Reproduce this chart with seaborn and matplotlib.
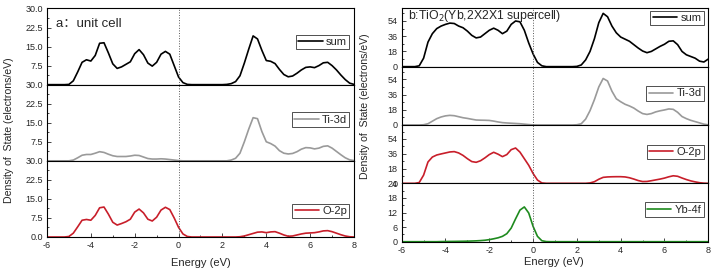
import numpy as np
import matplotlib
matplotlib.use("Agg")
import matplotlib.pyplot as plt
from matplotlib.ticker import MultipleLocator, FuncFormatter
import seaborn as sns

# energy grid (eV), 0.2 eV step
energy = np.linspace(-6, 8, 71)

# (a) unit cell
a_sum = [0, 0, 0, 0, 0, 0.1, 1.5, 5.0, 8.8, 9.8,
         9.3, 11.5, 16.3, 16.5, 12.5, 8.2, 6.4, 7.0, 8.0, 9.0,
         12.2, 13.8, 11.8, 8.5, 7.3, 8.8, 12.0, 13.1, 12.0, 7.5,
         3.0, 0.8, 0.1, 0, 0, 0, 0, 0, 0, 0,
         0, 0.1, 0.4, 1.2, 3.5, 8.5, 14.0, 19.2, 18.0, 13.5,
         9.5, 9.2, 8.3, 6.0, 4.0, 3.1, 3.4, 4.5, 5.8, 6.8,
         7.0, 6.7, 7.5, 8.6, 8.8, 7.5, 5.8, 3.8, 2.0, 0.6,
         0.1]
a_ti = [0, 0, 0, 0, 0, 0, 0.3, 1.2, 2.2, 2.5,
        2.5, 3.0, 3.6, 3.3, 2.6, 2.0, 1.7, 1.7, 1.7, 1.9,
        2.2, 2.1, 1.5, 0.9, 0.7, 0.7, 0.8, 0.7, 0.5, 0.3,
        0.1, 0, 0, 0, 0, 0, 0, 0, 0, 0,
        0, 0, 0.3, 1.0, 3.0, 7.5, 12.5, 17.0, 16.6, 11.5,
        7.5, 6.8, 5.8, 4.0, 3.0, 2.7, 2.9, 3.6, 4.6, 5.2,
        5.1, 4.7, 5.0, 5.7, 5.9, 5.0, 3.7, 2.4, 1.2, 0.4,
        0.1]
a_o = [0, 0, 0, 0, 0, 0.2, 1.5, 4.0, 6.6, 6.9,
       6.6, 8.5, 11.5, 11.8, 9.0, 5.8, 4.7, 5.3, 6.0, 7.0,
       9.8, 11.0, 9.5, 7.0, 6.3, 7.8, 10.6, 11.7, 10.8, 7.5,
       3.8, 1.2, 0.2, 0, 0, 0, 0, 0, 0, 0,
       0, 0, 0, 0, 0.1, 0.4, 0.9, 1.4, 1.9, 2.0,
       1.7, 2.0, 2.1, 1.5, 0.8, 0.3, 0.4, 0.8, 1.2, 1.5,
       1.6, 1.7, 2.0, 2.4, 2.5, 2.1, 1.5, 0.9, 0.4, 0.1,
       0]

# (b) Yb-doped 2x2x1 supercell
b_sum = [0, 0, 0, 0, 1, 10, 29, 39, 45, 48,
         50, 51.5, 51, 48, 46, 42, 37, 34, 35, 39,
         43, 45.5, 43, 39, 42, 50, 54, 53, 43, 28,
         15, 5, 1, 0, 0, 0, 0, 0, 0, 0,
         0.3, 2, 8, 18, 33, 52, 63, 59, 48, 40,
         35, 32.5, 30, 26, 22, 18.5, 16.5, 18, 21, 24,
         26.5, 30, 30.5, 26, 18, 14, 12, 10, 6.5, 5.5,
         9]
b_ti = [0, 0, 0, 0, 0, 0.3, 1.5, 4.5, 7.5, 9.5,
        10.8, 11.4, 11.0, 9.8, 8.6, 7.8, 6.8, 5.9, 5.7, 5.6,
        5.4, 4.6, 3.6, 2.8, 2.4, 2.1, 1.8, 1.5, 1.0, 0.5,
        0.1, 0, 0, 0, 0, 0, 0, 0, 0, 0,
        0.3, 1.5, 7, 17, 30, 45, 55, 52, 40, 31,
        27.5, 24.5, 22.5, 20, 16.5, 13.5, 12.5, 13.5, 15.5, 16.8,
        17.8, 19, 18.5, 15, 10, 7.5, 5.5, 4, 2.5, 1,
        0.2]
b_o = [0, 0, 0, 0, 1, 10, 26, 32, 34.5, 35.8,
       37, 38.2, 38.6, 37, 34, 30, 26.5, 25.6, 27.5, 31,
       35, 37.8, 35.5, 32.5, 35, 41, 43, 38, 30, 22,
       12, 4, 0.5, 0, 0, 0, 0, 0, 0, 0,
       0, 0, 0, 0.5, 2, 5, 7.3, 7.8, 8, 8.1,
       8.1, 7.8, 6.8, 5.2, 3.4, 2.2, 2.3, 3.2, 4.2, 5.2,
       6.4, 8, 9.2, 8.6, 6.5, 4.6, 3, 1.8, 0.8, 0.2,
       0]
b_yb = [0, 0, 0, 0, 0, 0, 0, 0, 0, 0.05,
        0.08, 0.1, 0.12, 0.15, 0.18, 0.22, 0.28, 0.35, 0.45, 0.6,
        0.85, 1.2, 1.6, 2.2, 3.3, 5.6, 9.4, 13.0, 14.3, 11.8,
        6.3, 2.2, 0.4, 0.05, 0, 0, 0, 0, 0, 0,
        0, 0, 0, 0, 0, 0, 0, 0, 0, 0,
        0, 0, 0, 0, 0, 0, 0, 0, 0, 0,
        0, 0, 0, 0, 0, 0, 0, 0, 0, 0,
        0]

sns.set_style("ticks")
plt.rcParams['font.family'] = ['Liberation Sans', 'Noto Sans CJK SC', 'DejaVu Sans']

C_SUM, C_TI, C_O, C_YB = "black", "#9a9a9a", "#c81e2a", "#1e8a1e"

fig = plt.figure(figsize=(7.14, 2.72), dpi=100)
gs_a = fig.add_gridspec(3, 1, left=0.0658, right=0.4958, bottom=0.1287, top=0.9688, hspace=0)
gs_b = fig.add_gridspec(4, 1, left=0.5626, right=0.9920, bottom=0.1114, top=0.9695, hspace=0)


def panel(ax, y, color, label, ylim, step, fmt, bottom, hide_zero, leg_y):
    sns.lineplot(x=energy, y=y, ax=ax, color=color, lw=1.2, label=label)
    ax.lines[-1].set_solid_joinstyle("round")
    ax.set_xlim(-6, 8)
    ax.set_ylim(*ylim)
    ax.axvline(0, color="0.35", ls=":", lw=0.7)
    ax.xaxis.set_major_locator(MultipleLocator(2))
    ax.xaxis.set_minor_locator(MultipleLocator(1))
    ax.yaxis.set_major_locator(MultipleLocator(step))
    ax.yaxis.set_minor_locator(MultipleLocator(step / 2))
    ax.yaxis.set_major_formatter(FuncFormatter(
        lambda v, p: "" if (hide_zero and abs(v) < 1e-9) else fmt.format(v)))
    ax.tick_params(which="both", direction="in", labelsize=6.5, pad=3, width=0.6)
    ax.tick_params(which="major", length=3)
    ax.tick_params(which="minor", length=1.6)
    if bottom:
        ax.xaxis.set_major_formatter(FuncFormatter(lambda v, p: "{:g}".format(v)))
    else:
        ax.tick_params(axis="x", which="both", bottom=False, labelbottom=False)
    for s in ax.spines.values():
        s.set_linewidth(0.8)
        s.set_color("black")
    ax.set_xlabel("")
    ax.set_ylabel("")
    leg = ax.legend(loc="center right", bbox_to_anchor=(0.985, leg_y), fontsize=8,
                    frameon=True, fancybox=False, edgecolor="0.2", framealpha=1,
                    handlelength=2.2, handletextpad=0.3, borderpad=0.2,
                    borderaxespad=0)
    leg.get_frame().set_linewidth(0.6)


ax_a = [fig.add_subplot(gs_a[i]) for i in range(3)]
panel(ax_a[0], a_sum, C_SUM, "sum", (0, 30), 7.5, "{:.1f}", False, True, 0.56)
panel(ax_a[1], a_ti, C_TI, "Ti-3d", (0, 30), 7.5, "{:.1f}", False, True, 0.54)
panel(ax_a[2], a_o, C_O, "O-2p", (0, 30), 7.5, "{:.1f}", True, False, 0.34)
ax_a[0].text(0.03, 0.80, "a：unit cell", transform=ax_a[0].transAxes,
             fontsize=9.5, va="center", ha="left")

ax_b = [fig.add_subplot(gs_b[i]) for i in range(4)]
panel(ax_b[0], b_sum, C_SUM, "sum", (0, 69), 18, "{:.0f}", False, False, 0.83)
panel(ax_b[1], b_ti, C_TI, "Ti-3d", (0, 69), 18, "{:.0f}", False, False, 0.54)
panel(ax_b[2], b_o, C_O, "O-2p", (0, 71), 18, "{:.0f}", False, False, 0.54)
panel(ax_b[3], b_yb, C_YB, "Yb-4f", (0, 24), 6, "{:.0f}", True, False, 0.55)
ax_b[0].text(0.02, 0.86, "b:TiO$_2$(Yb,2X2X1 supercell)", transform=ax_b[0].transAxes,
             fontsize=8.8, va="center", ha="left")

fig.text(0.012, 1 - 130 / 272, "Density of  State (electrons/eV)", rotation=90,
         ha="center", va="center", fontsize=7.6)
fig.text(365 / 714, 1 - 106 / 272, "Density of  State (electrons/eV)", rotation=90,
         ha="center", va="center", fontsize=7.6)
fig.text(201 / 714, 1 - 263 / 272, "Energy (eV)", ha="center", va="center", fontsize=8)
fig.text(554 / 714, 1 - 262 / 272, "Energy (eV)", ha="center", va="center", fontsize=8)

fig.savefig("out.png", dpi=100)
